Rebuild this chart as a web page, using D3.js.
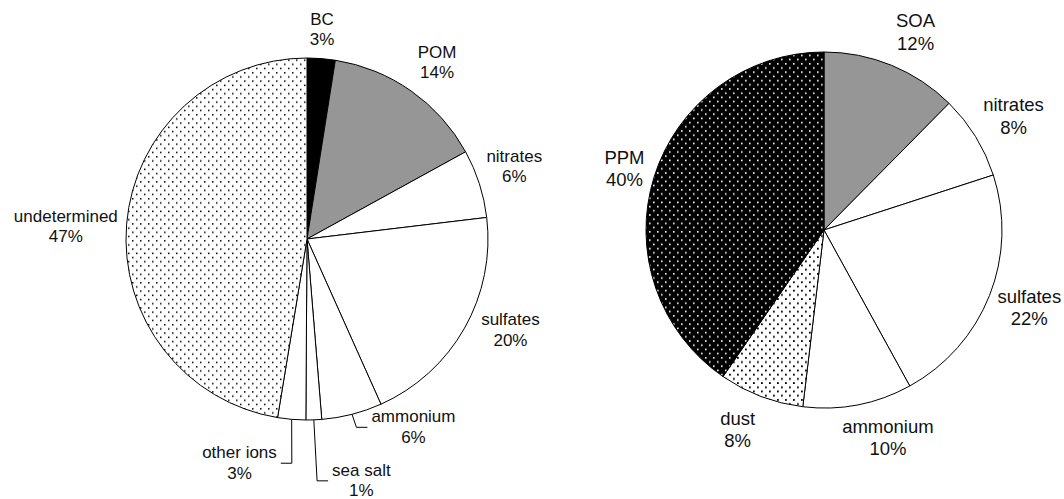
<!DOCTYPE html>
<html>
<head>
<meta charset="utf-8">
<script src="https://cdn.jsdelivr.net/npm/d3@7"></script>
<style>
  html, body { margin: 0; padding: 0; background: #fff; }
  svg { display: block; }
  .lbl { font-family: 'Liberation Sans', Arial, sans-serif; fill: #111; }
</style>
</head>
<body>
<div id="chart"></div>
<script>
// left pie: composition
const leftNames = ['BC', 'POM', 'nitrates', 'sulfates', 'ammonium', 'sea salt', 'other ions', 'undetermined']
const leftValues = [2.5, 14.5, 6.1, 20.2, 5.4, 1.4, 2.5, 47.4]
const leftPct = ['3%', '14%', '6%', '20%', '6%', '1%', '3%', '47%']

// right pie: composition
const rightNames = ['SOA', 'nitrates', 'sulfates', 'ammonium', 'dust', 'PPM']
const rightValues = [12.4, 7.6, 22.0, 9.9, 7.7, 40.4]
const rightPct = ['12%', '8%', '22%', '10%', '8%', '40%']

const width = 1064
const height = 499

const svg = d3.select('#chart')
  .append('svg')
  .attr('width', width)
  .attr('height', height)

// dot patterns
const defs = svg.append('defs')
function dotPattern (id, bg, fg, size) {
  const p = defs.append('pattern')
    .attr('id', id)
    .attr('patternUnits', 'userSpaceOnUse')
    .attr('width', 8)
    .attr('height', 8.4)
  p.append('rect').attr('width', 8).attr('height', 8.4).attr('fill', bg)
  ;[[1, 1], [5, 5.2]].forEach(d => {
    p.append('rect')
      .attr('x', d[0]).attr('y', d[1])
      .attr('width', size).attr('height', size)
      .attr('fill', fg)
  })
}
dotPattern('dotsLight', '#fff', '#000', 1.5)
dotPattern('dotsDust', '#fff', '#000', 1.8)
dotPattern('dotsDark', '#000', '#fff', 1.6)

const leftCfg = {
  cx: 307, cy: 239, r: 181, fontSize: 17, lineHeight: 20.5, capH: 12.3, gap: 12,
  fills: ['#000', '#969696', '#fff', '#fff', '#fff', '#fff', '#fff', 'url(#dotsLight)'],
  nudges: [[-1, 2], [8, -3], [-3, -8], [10, -15], [48, -19], [46, 28], [-48, 11], [3, 4]],
  leaders: [false, false, false, false, true, true, true, false]
}
const rightCfg = {
  cx: 824, cy: 230, r: 178, fontSize: 18.5, lineHeight: 22.5, capH: 13.3, gap: 12,
  fills: ['#969696', '#fff', '#fff', '#fff', 'url(#dotsDust)', 'url(#dotsDark)'],
  nudges: [[12, -2], [2, -3], [-1, -1], [19, -1], [-13, 1], [1, 1]],
  leaders: [false, false, false, false, false, false]
}

function drawPie (cfg, names, values, pct) {
  const g = svg.append('g').attr('transform', `translate(${cfg.cx},${cfg.cy})`)
  const pie = d3.pie().sort(null).value(d => d)
  const arcs = pie(values)
  const arc = d3.arc().innerRadius(0).outerRadius(cfg.r)

  g.selectAll('path.slice')
    .data(arcs)
    .enter()
    .append('path')
    .attr('class', 'slice')
    .attr('d', arc)
    .attr('fill', (d, i) => cfg.fills[i])
    .attr('stroke', '#000')
    .attr('stroke-width', 1)
    .attr('stroke-linejoin', 'round')

  const R = cfg.r + cfg.gap
  const h = 2 * cfg.lineHeight - 1
  arcs.forEach((d, i) => {
    const a = (d.startAngle + d.endAngle) / 2
    const s = Math.sin(a)
    const c = Math.cos(a)
    const t = g.append('text')
      .attr('class', 'lbl')
      .style('font-size', cfg.fontSize + 'px')
      .attr('text-anchor', 'middle')
    const l1 = t.append('tspan').attr('x', 0).text(names[i])
    const l2 = t.append('tspan').attr('x', 0).text(pct[i])
    const w = Math.max(l1.node().getComputedTextLength(), l2.node().getComputedTextLength())
    const lx = R * s + s * w / 2 + cfg.nudges[i][0]
    const ly = -R * c - c * h / 2 + cfg.nudges[i][1]
    const b1 = ly - cfg.lineHeight / 2 + cfg.capH / 2 + 0.2
    l1.attr('x', lx).attr('y', b1)
    l2.attr('x', lx).attr('y', b1 + cfg.lineHeight)

    if (cfg.leaders[i]) {
      const sx = cfg.r * s
      const sy = -cfg.r * c
      const right = lx > sx
      const ex = right ? lx - w / 2 - 4 : lx + w / 2 + 4
      const bx = right ? ex - 11 : ex + 11
      g.append('path')
        .attr('d', d3.line()([[sx, sy], [bx, ly + 1], [ex, ly + 1]]))
        .attr('fill', 'none')
        .attr('stroke', '#000')
        .attr('stroke-width', 1)
    }
  })
}

drawPie(leftCfg, leftNames, leftValues, leftPct)
drawPie(rightCfg, rightNames, rightValues, rightPct)
</script>
</body>
</html>
